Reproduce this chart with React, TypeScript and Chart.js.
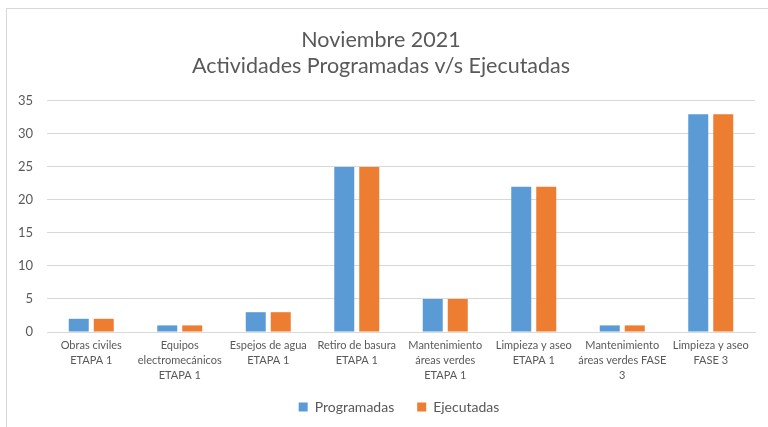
import React, { useEffect, useRef } from "react";
import { Chart, registerables } from "chart.js";

Chart.register(...registerables);

const titleLines = ["Noviembre 2021", "Actividades Programadas v/s Ejecutadas"];
const categories: string[][] = [
  ["Obras civiles", "ETAPA 1"],
  ["Equipos", "electromecánicos", "ETAPA 1"],
  ["Espejos de agua", "ETAPA 1"],
  ["Retiro de basura", "ETAPA 1"],
  ["Mantenimiento", "áreas verdes", "ETAPA 1"],
  ["Limpieza y aseo", "ETAPA 1"],
  ["Mantenimiento", "áreas verdes FASE", "3"],
  ["Limpieza y aseo", "FASE 3"],
];
const programadas = [2, 1, 3, 25, 5, 22, 1, 33];
const ejecutadas = [2, 1, 3, 25, 5, 22, 1, 33];
const yMin = 0;
const yMax = 35;
const yStep = 5;

const FONT = 'Lato, "Open Sans", "Liberation Sans", sans-serif';
const TEXT = "#595959";
const GRID = "#d9d9d9";

const legendShift = {
  id: "legendShift",
  afterLayout(chart: any) {
    const l = chart.legend;
    if (l) {
      l.left += 18;
      l.right += 18;
      l.top -= 12;
      l.bottom -= 12;
    }
  },
};

export default function App() {
  const ref = useRef<HTMLCanvasElement | null>(null);
  useEffect(() => {
    if (!ref.current) return;
    const chart = new Chart(ref.current, {
      type: "bar",
      data: {
        labels: categories,
        datasets: [
          {
            label: "Programadas",
            data: programadas,
            backgroundColor: "#5B9BD5",
            barPercentage: 0.8,
            categoryPercentage: 0.565,
          },
          {
            label: "Ejecutadas",
            data: ejecutadas,
            backgroundColor: "#ED7D31",
            barPercentage: 0.8,
            categoryPercentage: 0.565,
          },
        ],
      },
      plugins: [legendShift],
      options: {
        responsive: false,
        animation: false,
        layout: { padding: { left: 0, right: 13, top: 0, bottom: -9 } },
        plugins: {
          title: {
            display: true,
            text: titleLines,
            color: TEXT,
            font: { family: FONT, size: 21.5, weight: "normal", lineHeight: 1.22 },
            padding: { top: 18, bottom: 21.5 },
          },
          legend: {
            position: "bottom",
            labels: {
              color: TEXT,
              font: { family: FONT, size: 14 },
              boxWidth: 9,
              boxHeight: 9,
              padding: 23,
            },
          },
          tooltip: { enabled: false },
        },
        scales: {
          x: {
            grid: { display: false, drawTicks: false },
            border: { display: true, color: GRID },
            ticks: {
              color: TEXT,
              font: { family: FONT, size: 11, lineHeight: 1.36 },
              maxRotation: 0,
              minRotation: 0,
              autoSkip: false,
              padding: 6,
            },
            afterFit: (s: any) => {
              s.height = 57;
            },
          },
          y: {
            min: yMin,
            max: yMax,
            ticks: {
              stepSize: yStep,
              color: TEXT,
              font: { family: FONT, size: 13 },
              padding: 14,
            },
            grid: { color: GRID, drawTicks: false, lineWidth: 1 },
            border: { display: false },
            afterFit: (s: any) => {
              s.width = 40;
            },
          },
        },
      },
    });
    return () => chart.destroy();
  }, []);
  return (
    <div
      style={{
        position: "absolute",
        left: 6,
        top: 8,
        width: 762,
        height: 419,
        borderLeft: "1px solid #d9d9d9",
        borderTop: "1px solid #d9d9d9",
        boxSizing: "border-box",
        background: "#fff",
      }}
    >
      <canvas ref={ref} width={761} height={418} style={{ display: "block" }} />
    </div>
  );
}
